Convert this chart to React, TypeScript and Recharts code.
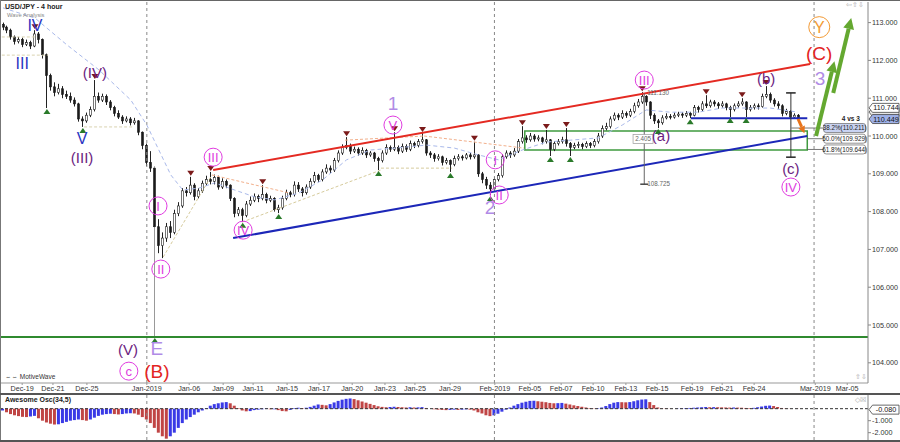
import React from "react";
import { ComposedChart, Bar, Line, XAxis, YAxis, ReferenceLine, ReferenceDot, ReferenceArea, Cell } from "recharts";

const FONT = '"Liberation Sans", Arial, sans-serif';

// 4h candles, index 0 = Dec-18 evening
const OPEN0 = 112.95;
const CLOSE = [
  112.88, 112.80, 112.62, 112.50, 112.55, 112.42, 112.47, 112.38, 112.70, 112.55,
  112.15, 111.60, 111.30, 111.15, 111.25, 111.10, 111.05, 110.95, 110.85, 110.45,
  110.40, 110.55, 110.70, 111.05, 110.95, 111.05, 110.90, 110.75, 110.60, 110.50,
  110.40, 110.45, 110.35, 110.40, 110.10, 109.75, 109.30, 109.15, 107.60, 107.10,
  107.30, 107.60, 107.45, 107.95, 108.15, 108.55, 108.50, 108.70, 108.40, 108.55,
  108.75, 108.85, 108.80, 108.90, 108.65, 108.80, 108.70, 108.35, 107.95, 108.05,
  107.90, 108.20, 108.30, 108.40, 108.35, 108.45, 108.30, 108.35, 108.05, 108.10,
  108.35, 108.50, 108.45, 108.70, 108.60, 108.50, 108.65, 108.80, 108.95, 108.85,
  109.05, 109.15, 109.10, 109.35, 109.55, 109.70, 109.75, 109.60, 109.65, 109.55,
  109.62, 109.50, 109.55, 109.40, 109.35, 109.55, 109.70, 109.65, 109.70, 109.60,
  109.72, 109.65, 109.80, 109.75, 109.85, 109.90, 109.55, 109.50, 109.40, 109.45,
  109.30, 109.35, 109.25, 109.40, 109.45, 109.42, 109.50, 109.45, 109.50, 109.00,
  108.85, 108.70, 108.60, 108.85, 108.95, 109.45, 109.55, 109.50, 109.60, 109.85,
  109.95, 109.90, 110.00, 109.92, 109.95, 109.85, 109.90, 109.65, 109.80, 109.85,
  109.90, 109.80, 109.70, 109.75, 109.78, 109.72, 109.80, 109.75, 109.85, 110.00,
  110.20, 110.25, 110.45, 110.55, 110.50, 110.60, 110.55, 110.65, 110.80, 110.90,
  111.05, 110.90, 110.55, 110.40, 110.35, 110.48, 110.52, 110.50, 110.55, 110.58,
  110.55, 110.60, 110.55, 110.75, 110.70, 110.85, 110.80, 110.90, 110.85, 110.80,
  110.85, 110.75, 110.70, 110.80, 110.85, 110.90, 110.70, 110.75, 110.80, 110.78,
  111.05, 111.10, 110.95, 110.85, 110.80, 110.60, 110.65, 110.50, 110.55, 110.45,
];
const HIGH = [
  113.00, 112.92, 112.84, 112.66, 112.62, 112.60, 112.55, 112.52, 112.80, 112.75,
  112.58, 112.18, 111.65, 111.42, 111.38, 111.32, 111.20, 111.15, 111.02, 110.88,
  110.52, 110.62, 110.78, 111.48, 111.15, 111.12, 111.10, 110.95, 110.80, 110.68,
  110.55, 110.52, 110.50, 110.48, 110.42, 110.12, 109.80, 109.60, 109.20, 107.80,
  107.45, 107.70, 107.75, 108.05, 108.25, 108.62, 108.65, 108.92, 108.75, 108.62,
  108.82, 108.95, 109.05, 108.98, 108.95, 108.88, 108.85, 108.72, 108.38, 108.12,
  108.10, 108.28, 108.40, 108.48, 108.45, 108.70, 108.50, 108.42, 108.38, 108.18,
  108.42, 108.58, 108.55, 108.80, 108.78, 108.65, 108.72, 108.88, 109.05, 109.00,
  109.12, 109.25, 109.22, 109.42, 109.62, 109.78, 109.97, 109.80, 109.72, 109.70,
  109.70, 109.66, 109.60, 109.58, 109.45, 109.62, 109.78, 109.75, 110.10, 109.75,
  109.80, 109.78, 109.88, 109.85, 109.92, 110.08, 109.92, 109.60, 109.55, 109.52,
  109.48, 109.42, 109.38, 109.48, 109.52, 109.50, 109.55, 109.55, 109.85, 109.52,
  109.05, 108.92, 108.78, 108.92, 109.02, 109.52, 109.62, 109.60, 109.68, 109.92,
  110.26, 110.02, 110.08, 110.05, 110.02, 109.98, 110.16, 109.92, 109.86, 109.92,
  109.98, 110.21, 109.84, 109.82, 109.85, 109.82, 109.86, 109.84, 109.92, 110.08,
  110.28, 110.35, 110.52, 110.62, 110.60, 110.68, 110.65, 110.72, 110.88, 110.98,
  111.16, 111.08, 110.92, 110.60, 110.45, 110.55, 110.60, 110.58, 110.62, 110.64,
  110.63, 110.66, 110.64, 110.82, 110.80, 110.92, 111.08, 110.96, 110.95, 110.90,
  110.92, 110.88, 110.80, 110.86, 110.92, 111.00, 110.92, 110.82, 110.86, 110.86,
  111.12, 111.32, 111.15, 111.00, 110.92, 110.84, 110.72, 110.68, 110.60, 110.58,
];
const LOW = [
  112.80, 112.72, 112.55, 112.42, 112.45, 112.35, 112.38, 112.30, 112.35, 112.45,
  112.05, 110.74, 111.20, 111.05, 111.10, 111.00, 110.98, 110.88, 110.78, 110.38,
  110.24, 110.35, 110.50, 110.65, 110.88, 110.90, 110.82, 110.68, 110.52, 110.45,
  110.32, 110.36, 110.28, 110.30, 110.02, 109.65, 109.20, 109.05, 104.68, 106.90,
  106.77, 107.20, 107.30, 107.40, 107.88, 108.10, 108.40, 108.45, 108.30, 108.35,
  108.50, 108.68, 108.72, 108.72, 108.58, 108.60, 108.62, 108.28, 107.85, 107.88,
  107.73, 107.85, 108.15, 108.25, 108.25, 108.30, 108.22, 108.25, 108.00, 107.96,
  108.05, 108.30, 108.38, 108.40, 108.52, 108.40, 108.45, 108.60, 108.75, 108.78,
  108.80, 109.00, 109.02, 109.05, 109.30, 109.50, 109.65, 109.52, 109.55, 109.48,
  109.50, 109.42, 109.45, 109.32, 109.10, 109.30, 109.50, 109.58, 109.60, 109.52,
  109.55, 109.58, 109.60, 109.68, 109.70, 109.80, 109.48, 109.42, 109.32, 109.35,
  109.22, 109.25, 109.05, 109.20, 109.35, 109.35, 109.38, 109.38, 109.40, 108.92,
  108.75, 108.60, 108.44, 108.55, 108.80, 108.90, 109.40, 109.42, 109.45, 109.55,
  109.80, 109.82, 109.85, 109.85, 109.86, 109.78, 109.80, 109.47, 109.60, 109.75,
  109.80, 109.72, 109.47, 109.65, 109.68, 109.65, 109.68, 109.68, 109.70, 109.80,
  109.95, 110.15, 110.20, 110.40, 110.42, 110.45, 110.48, 110.50, 110.60, 110.75,
  110.85, 110.80, 110.45, 110.32, 110.21, 110.30, 110.44, 110.44, 110.46, 110.50,
  110.48, 110.50, 110.47, 110.52, 110.62, 110.66, 110.74, 110.75, 110.78, 110.72,
  110.75, 110.68, 110.50, 110.65, 110.75, 110.80, 110.50, 110.65, 110.70, 110.70,
  110.75, 111.00, 110.88, 110.78, 110.72, 110.52, 110.55, 110.45, 110.46, 110.42,
];
// Awesome Oscillator (34,5)
const AO = [
  -0.15, -0.30, -0.45, -0.55, -0.62, -0.68, -0.70, -0.65, -0.60, -0.80,
  -1.00, -1.15, -1.25, -1.32, -1.30, -1.20, -1.10, -1.00, -0.95, -0.90,
  -0.95, -1.00, -0.90, -0.75, -0.60, -0.50, -0.45, -0.42, -0.45, -0.48,
  -0.45, -0.40, -0.38, -0.40, -0.50, -0.70, -0.90, -1.20, -1.60, -2.00,
  -2.30, -2.50, -2.30, -2.00, -1.60, -1.20, -0.90, -0.70, -0.50, -0.30,
  -0.15, 0.05, 0.25, 0.38, 0.45, 0.52, 0.55, 0.45, 0.25, 0.05,
  -0.15, -0.22, -0.20, -0.12, -0.08, -0.05, -0.03, -0.05, -0.05, -0.12,
  -0.20, -0.22, -0.10, 0.05, 0.08, 0.05, 0.08, 0.15, 0.25, 0.35,
  0.32, 0.28, 0.38, 0.52, 0.65, 0.75, 0.82, 0.85, 0.80, 0.70,
  0.60, 0.50, 0.40, 0.30, 0.20, 0.15, 0.12, 0.14, 0.16, 0.14,
  0.12, 0.10, 0.12, 0.10, 0.11, 0.13, 0.06, 0.00, -0.05, -0.08,
  -0.10, -0.12, -0.10, -0.08, -0.10, -0.08, -0.06, -0.08, -0.15, -0.30,
  -0.40, -0.55, -0.62, -0.55, -0.42, -0.25, -0.08, 0.10, 0.25, 0.38,
  0.50, 0.58, 0.65, 0.66, 0.62, 0.58, 0.54, 0.48, 0.45, 0.46,
  0.48, 0.42, 0.35, 0.28, 0.22, 0.16, 0.10, 0.05, 0.02, 0.04,
  0.10, 0.22, 0.38, 0.50, 0.55, 0.54, 0.53, 0.55, 0.62, 0.70,
  0.76, 0.78, 0.55, 0.30, 0.10, 0.03, 0.02, 0.01, 0.00, 0.02,
  0.04, 0.05, 0.06, 0.08, 0.10, 0.12, 0.14, 0.12, 0.13, 0.12,
  0.11, 0.10, 0.09, 0.10, 0.09, 0.08, 0.06, 0.05, 0.07, 0.12,
  0.18, 0.24, 0.26, 0.22, 0.14, 0.06, 0.02, 0.01, 0.00, -0.01,
];
// light blue moving average, read at a few bars
const MA_IDX = [0, 8, 16, 24, 32, 36, 39, 42, 45, 49, 53, 58, 63, 68, 74, 80, 86, 92, 98, 106, 113, 119, 124, 130, 136, 142, 149, 155, 161, 167, 174, 180, 186, 192, 199];
const MA_VAL = [113.39, 113.12, 112.41, 111.75, 110.95, 110.29, 109.63, 108.97, 108.57, 108.62, 108.76, 108.57, 108.39, 108.31, 108.49, 108.84, 109.37, 109.63, 109.68, 109.76, 109.68, 109.50, 109.37, 109.63, 109.84, 109.89, 109.95, 110.29, 110.69, 110.63, 110.63, 110.74, 110.74, 110.74, 110.63];

const TICK_POS = [4.8, 12.5, 21, 36, 46.6, 55.1, 62.6, 71.1, 79.1, 87.4, 95.6, 103.1, 111.9, 123.1, 131.9, 139.7, 147.7, 155.9, 163.7, 172.5, 180, 188, 203.3, 211.3];
const TICK_LBL = ["Dec-19", "Dec-21", "Dec-25", "Jan-2019", "Jan-06", "Jan-09", "Jan-11", "Jan-15", "Jan-17", "Jan-20", "Jan-23", "Jan-25", "Jan-29", "Feb-2019", "Feb-05", "Feb-07", "Feb-10", "Feb-13", "Feb-15", "Feb-19", "Feb-21", "Feb-24", "Mar-2019", "Mar-05"];
const PRICE_TICKS = [104, 105, 106, 107, 108, 109, 110, 111, 112, 113];
const AO_TICKS = [-1, -2];
const SESSION_LINES = [36, 123, 203];

const PEAK_I = [8, 23, 47, 52, 65, 86, 98, 105, 118, 130, 136, 141, 160, 176, 185, 191];
const PEAK_P = [112.80, 111.48, 108.92, 109.05, 108.70, 109.97, 110.10, 110.08, 109.85, 110.26, 110.16, 110.21, 111.16, 111.08, 111.00, 111.32];
const TROUGH_I = [11, 20, 38, 60, 69, 94, 112, 122, 137, 142, 164, 172, 182, 186];
const TROUGH_P = [110.74, 110.24, 104.68, 107.73, 107.96, 109.10, 109.05, 108.44, 109.47, 109.47, 110.21, 110.47, 110.50, 110.50];

const WAVES = [
  { t: "IV", i: 8, p: 112.94, k: "blue" },
  { t: "III", i: 4.8, p: 111.93, k: "blue" },
  { t: "V", i: 19.8, p: 109.95, k: "blue" },
  { t: "(IV)", i: 23, p: 111.69, k: "purple" },
  { t: "(III)", i: 19.8, p: 109.44, k: "purple" },
  { t: "(V)", i: 31.3, p: 104.34, k: "purple" },
  { t: "E", i: 38.5, p: 104.39, k: "lilac" },
  { t: "c", i: 31.5, p: 103.78, k: "circ" },
  { t: "(B)", i: 38.5, p: 103.78, k: "red" },
  { t: "I", i: 38.8, p: 108.15, k: "circ" },
  { t: "II", i: 39.5, p: 106.48, k: "circ" },
  { t: "III", i: 52.6, p: 109.44, k: "circ" },
  { t: "IV", i: 60.1, p: 107.51, k: "circ" },
  { t: "1", i: 97.6, p: 110.87, k: "lilac" },
  { t: "V", i: 97.6, p: 110.29, k: "circ" },
  { t: "2", i: 121.9, p: 108.12, k: "lilac" },
  { t: "I", i: 123.2, p: 109.37, k: "circ" },
  { t: "II", i: 124.2, p: 108.44, k: "circ" },
  { t: "III", i: 160.5, p: 111.48, k: "circ" },
  { t: "(a)", i: 164.7, p: 110.0, k: "purple" },
  { t: "(b)", i: 191, p: 111.53, k: "purple" },
  { t: "(c)", i: 197.2, p: 109.15, k: "purple" },
  { t: "IV", i: 197.2, p: 108.65, k: "circ" },
  { t: "3", i: 204.5, p: 111.53, k: "lilac" },
  { t: "(C)", i: 204.3, p: 112.2, k: "red" },
  { t: "Y", i: 204.3, p: 112.88, k: "ycirc" },
];

const FIB_LVL = ["38.2%", "50.0%", "61.8%"];
const FIB_P = [110.211, 109.929, 109.644];
const TAG_P = [110.633, 110.744, 110.449];

const candles = CLOSE.map((c, i) => {
  const k = MA_IDX.indexOf(i);
  return {
    i,
    o: i === 0 ? OPEN0 : CLOSE[i - 1],
    c,
    h: HIGH[i],
    l: LOW[i],
    ma: k >= 0 ? MA_VAL[k] : null,
    ao: AO[i],
  };
});

const STYLE: Record<string, { color: string; size: number; r?: number }> = {
  blue: { color: "#2a36c2", size: 16 },
  purple: { color: "#6b1d80", size: 15 },
  lilac: { color: "#b18be6", size: 19 },
  red: { color: "#e3241f", size: 19 },
  circ: { color: "#e03ce0", size: 13, r: 9 },
  ycirc: { color: "#f39a35", size: 16, r: 10.5 },
};

const Candle = (props: any) => {
  const { x, y, width, height, payload } = props;
  if (!payload || height == null) return <g />;
  const { o, h, l, c } = payload;
  const cx = Math.round(x + width / 2) + 0.5;
  const span = h - l || 1;
  const py = (v: number) => y + ((h - v) / span) * height;
  const top = py(Math.max(o, c));
  const bot = py(Math.min(o, c));
  const up = c >= o;
  return (
    <g>
      <line x1={cx} x2={cx} y1={y} y2={y + height} stroke={l < 105 ? "#999" : "#222"} strokeWidth={1} />
      <rect x={cx - 1} y={top} width={2} height={Math.max(1, bot - top)} fill={up ? "#fff" : "#1a1a1a"} stroke="#1a1a1a" strokeWidth={0.6} />
    </g>
  );
};

const waveShape = (t: string, k: string) => (p: any) => {
  const s = STYLE[k];
  return (
    <g>
      {s.r ? <circle cx={p.cx} cy={p.cy} r={s.r} fill="none" stroke={s.color} strokeWidth={1} /> : null}
      <text x={p.cx} y={p.cy + s.size * 0.36} textAnchor="middle" fill={s.color} fontSize={s.size} fontFamily={FONT}>{t}</text>
    </g>
  );
};

const tri = (down: boolean) => (p: any) => {
  const { cx, cy } = p;
  const pts = down
    ? `${cx - 3.5},${cy - 6} ${cx + 3.5},${cy - 6} ${cx},${cy - 1}`
    : `${cx - 3.5},${cy + 6} ${cx + 3.5},${cy + 6} ${cx},${cy + 1}`;
  return <polygon points={pts} fill={down ? "#7b1a1a" : "#2a7a2a"} />;
};

const arrowShape = (color: string, w: number, head: number) => (props: any) => {
  const { x1, y1, x2, y2 } = props;
  const dx = x2 - x1, dy = y2 - y1;
  const len = Math.sqrt(dx * dx + dy * dy) || 1;
  const ux = dx / len, uy = dy / len;
  const bx = x2 - ux * head, by = y2 - uy * head;
  const nx = -uy, ny = ux;
  const hw = head * 0.5;
  return (
    <g>
      <line x1={x1} y1={y1} x2={bx} y2={by} stroke={color} strokeWidth={w} />
      <polygon points={`${x2},${y2} ${bx + nx * hw},${by + ny * hw} ${bx - nx * hw},${by - ny * hw}`} fill={color} />
    </g>
  );
};

const fibTag = (text: string, fill: string) => (p: any) => (
  <g>
    <rect x={p.cx} y={p.cy - 4.5} width={42} height={9} rx={2.5} fill={fill} stroke="#777" strokeWidth={0.8} />
    <text x={p.cx + 21} y={p.cy + 2.3} textAnchor="middle" fontSize={6.3} fill="#222" fontFamily={FONT}>{text}</text>
  </g>
);

const priceTag = (text: string, fill: string) => (p: any) => (
  <g>
    <polygon points={`${p.cx + 1},${p.cy} ${p.cx + 4.5},${p.cy - 4.5} ${p.cx + 31},${p.cy - 4.5} ${p.cx + 31},${p.cy + 4.5} ${p.cx + 4.5},${p.cy + 4.5}`} fill={fill} stroke="#444" strokeWidth={0.8} />
    {text ? <text x={p.cx + 18} y={p.cy + 2.6} textAnchor="middle" fontSize={7.2} fill="#111" fontFamily={FONT}>{text}</text> : null}
  </g>
);

const smallText = (text: string, dx: number, anchor: string, box?: boolean) => (p: any) => (
  <g>
    {box ? <rect x={p.cx + dx - 10} y={p.cy - 4.5} width={20} height={9} fill="#fff" stroke="#999" strokeWidth={0.7} /> : null}
    <text x={p.cx + dx} y={p.cy + 2.2} textAnchor={anchor as any} fontSize={6.3} fill="#666" fontFamily={FONT}>{text}</text>
  </g>
);

const boldText = (text: string) => (p: any) => (
  <text x={p.cx} y={p.cy + 2.3} textAnchor="middle" fontSize={6.5} fontWeight="bold" fill="#222" fontFamily={FONT}>{text}</text>
);

const seg = (x1: number, y1: number, x2: number, y2: number) => [{ x: x1, y: y1 }, { x: x2, y: y2 }] as any;

export default function App() {
  return (
    <div style={{ position: "absolute", left: 0, top: 0, width: 900, height: 442, background: "#fff", overflow: "hidden", fontFamily: FONT }}>
      <ComposedChart width={900} height={393} data={candles} margin={{ top: 2, right: 0, left: 1, bottom: 0 }}>
        <XAxis
          type="number" dataKey="i" domain={[-0.5, 216.5]} allowDataOverflow
          ticks={TICK_POS} interval={0} height={10} tickSize={2} tickMargin={1}
          tickFormatter={(v: number) => TICK_LBL[TICK_POS.indexOf(v)] ?? ""}
          tick={{ fontSize: 7.2, fill: "#333" }} axisLine={{ stroke: "#999" }} tickLine={{ stroke: "#999" }}
        />
        <YAxis
          yAxisId="p" orientation="right" width={32} domain={[103.466, 113.545]} allowDataOverflow
          ticks={PRICE_TICKS} interval={0} tickSize={3} tickMargin={1}
          tickFormatter={(v: number) => v.toFixed(3)}
          tick={{ fontSize: 7.2, fill: "#333" }} axisLine={{ stroke: "#888" }} tickLine={{ stroke: "#888" }}
        />

        {SESSION_LINES.map((x) => (
          <ReferenceLine key={"s" + x} yAxisId="p" x={x} stroke="#888" strokeDasharray="3 3" />
        ))}
        <ReferenceLine yAxisId="p" y={104.68} stroke="#2f8a2f" strokeWidth={2} />

        {/* helper dashed wave lines */}
        <ReferenceLine yAxisId="p" segment={seg(-0.3, 112.62, 8.5, 112.62)} stroke="#d9d2b0" strokeDasharray="3 2" />
        <ReferenceLine yAxisId="p" segment={seg(-0.3, 112.14, 11.3, 112.14)} stroke="#d9d2b0" strokeDasharray="3 2" />
        <ReferenceLine yAxisId="p" segment={seg(20.3, 110.24, 32.8, 110.24)} stroke="#d9d2b0" strokeDasharray="3 2" />
        <ReferenceLine yAxisId="p" segment={seg(40.1, 106.8, 52.3, 108.97)} stroke="#d6cb9c" strokeDasharray="3 2" />
        <ReferenceLine yAxisId="p" segment={seg(52.3, 108.97, 71.8, 108.49)} stroke="#f2b08c" strokeDasharray="3 2" />
        <ReferenceLine yAxisId="p" segment={seg(59.8, 107.72, 94.6, 109.1)} stroke="#d6cb9c" strokeDasharray="3 2" />
        <ReferenceLine yAxisId="p" segment={seg(85.6, 109.89, 105.4, 110.0)} stroke="#f2b08c" strokeDasharray="3 2" />
        <ReferenceLine yAxisId="p" segment={seg(105.4, 110.0, 130.4, 109.68)} stroke="#f2b08c" strokeDasharray="3 2" />
        <ReferenceLine yAxisId="p" segment={seg(94.6, 109.15, 112.4, 109.15)} stroke="#d6cb9c" strokeDasharray="3 2" />

        <Line yAxisId="p" dataKey="ma" connectNulls dot={false} stroke="#a9b9ea" strokeWidth={1} strokeDasharray="4 3" isAnimationActive={false} />

        <ReferenceArea yAxisId="p" x1={130.6} x2={201.3} y1={109.63} y2={110.13} fill="none" fillOpacity={0} stroke="#3f9a3f" strokeWidth={1.5} />

        <Bar yAxisId="p" dataKey={(d: any) => [d.l, d.h]} barSize={3} shape={Candle} isAnimationActive={false} />

        {/* channel */}
        <ReferenceLine yAxisId="p" segment={seg(52.6, 109.1, 202.0, 111.905)} stroke="#e42a22" strokeWidth={2} />
        <ReferenceLine yAxisId="p" segment={seg(57.6, 107.3, 201.3, 110.0)} stroke="#1c27b8" strokeWidth={2} />
        <ReferenceLine yAxisId="p" segment={seg(172.2, 110.47, 201.3, 110.47)} stroke="#1c27b8" strokeWidth={2} />

        {/* measurement bars */}
        <ReferenceLine yAxisId="p" segment={seg(160.5, 111.13, 160.5, 108.725)} stroke="#666" />
        <ReferenceLine yAxisId="p" segment={seg(159.5, 108.725, 161.5, 108.725)} stroke="#444" strokeWidth={1.5} />
        <ReferenceLine yAxisId="p" segment={seg(197.2, 111.14, 197.2, 109.44)} stroke="#333" />
        <ReferenceLine yAxisId="p" segment={seg(196.0, 111.14, 198.4, 111.14)} stroke="#222" strokeWidth={1.5} />
        <ReferenceLine yAxisId="p" segment={seg(196.0, 109.44, 198.4, 109.44)} stroke="#222" strokeWidth={1.5} />
        <ReferenceDot yAxisId="p" x={160.5} y={111.13} r={0} shape={smallText("111.130", 3, "start")} />
        <ReferenceDot yAxisId="p" x={160.5} y={108.725} r={0} shape={smallText("108.725", 3, "start")} />
        <ReferenceDot yAxisId="p" x={160.2} y={109.92} r={0} shape={smallText("2.405", 0, "middle", true)} />

        {/* fib levels */}
        <ReferenceLine yAxisId="p" segment={seg(197.3, FIB_P[0], 205.4, FIB_P[0])} stroke="#555" strokeWidth={0.8} />
        <ReferenceLine yAxisId="p" segment={seg(201.3, FIB_P[1], 205.4, FIB_P[1])} stroke="#555" strokeWidth={0.8} />
        <ReferenceLine yAxisId="p" segment={seg(201.3, FIB_P[2], 205.4, FIB_P[2])} stroke="#555" strokeWidth={0.8} />
        {FIB_P.map((p, k) => (
          <ReferenceDot key={"f" + k} yAxisId="p" x={205.4} y={p} r={0}
            shape={fibTag(`${FIB_LVL[k]}(${p.toFixed(3)})`, k === 0 ? "#c9d3f2" : "#fff")} />
        ))}
        <ReferenceDot yAxisId="p" x={212.2} y={110.45} r={0} shape={boldText("4 vs 3")} />

        {/* arrows */}
        <ReferenceLine yAxisId="p" segment={seg(199.0, 110.45, 200.6, 110.07)} shape={arrowShape("#e8741c", 3, 7)} />
        <ReferenceLine yAxisId="p" segment={seg(203.5, 110.0, 208.1, 111.98)} shape={arrowShape("#64a830", 4, 11)} />
        <ReferenceLine yAxisId="p" segment={seg(207.8, 111.14, 212.3, 113.12)} shape={arrowShape("#64a830", 4, 11)} />

        {PEAK_I.map((x, k) => (
          <ReferenceDot key={"pk" + k} yAxisId="p" x={x} y={PEAK_P[k]} r={0} shape={tri(true)} />
        ))}
        {TROUGH_I.map((x, k) => (
          <ReferenceDot key={"tr" + k} yAxisId="p" x={x} y={TROUGH_P[k]} r={0} shape={tri(false)} />
        ))}

        {WAVES.map((w, k) => (
          <ReferenceDot key={"w" + k} yAxisId="p" x={w.i} y={w.p} r={0} shape={waveShape(w.t, w.k)} />
        ))}

        {TAG_P.map((p, k) => (
          <ReferenceDot key={"t" + k} yAxisId="p" x={216.5} y={p} r={0} ifOverflow="visible"
            shape={priceTag(k === 0 ? "" : p.toFixed(3), k === 2 ? "#9fb1e8" : k === 0 ? "#e6e6e6" : "#fff")} />
        ))}
      </ComposedChart>

      <div style={{ position: "absolute", left: 0, top: 395 }}>
        <ComposedChart width={900} height={47} data={candles} margin={{ top: 0, right: 0, left: 1, bottom: 2 }}>
          <XAxis type="number" dataKey="i" domain={[-0.5, 216.5]} allowDataOverflow hide />
          <YAxis
            yAxisId="a" orientation="right" width={32} domain={[-2.61, 1.14]} allowDataOverflow
            ticks={AO_TICKS} interval={0} tickSize={3} tickMargin={1}
            tickFormatter={(v: number) => v.toFixed(3)}
            tick={{ fontSize: 7.2, fill: "#333" }} axisLine={{ stroke: "#888" }} tickLine={{ stroke: "#888" }}
          />
          {SESSION_LINES.map((x) => (
            <ReferenceLine key={"sa" + x} yAxisId="a" x={x} stroke="#888" strokeDasharray="3 3" />
          ))}
          <Bar yAxisId="a" dataKey="ao" barSize={3} isAnimationActive={false}>
            {candles.map((d, i) => (
              <Cell key={i} fill={i > 0 && d.ao < AO[i - 1] ? "#c04545" : "#3a3ae6"} />
            ))}
          </Bar>
          <ReferenceLine yAxisId="a" y={0} stroke="#333" strokeDasharray="3 2" />
          <ReferenceDot yAxisId="a" x={216.5} y={-0.08} r={0} ifOverflow="visible" shape={priceTag("-0.080", "#fff")} />
        </ComposedChart>
      </div>

      {/* frame */}
      <div style={{ position: "absolute", left: 0, top: 0, width: 900, height: 1, background: "#666" }} />
      <div style={{ position: "absolute", left: 0, top: 0, width: 1, height: 442, background: "#777" }} />
      <div style={{ position: "absolute", left: 0, top: 393, width: 900, height: 2, background: "#555" }} />
      <div style={{ position: "absolute", left: 0, top: 440, width: 900, height: 2, background: "#555" }} />

      <div style={{ position: "absolute", left: 5, top: 3, fontSize: 7, fontWeight: "bold", color: "#222", lineHeight: "8px" }}>USD/JPY - 4 hour</div>
      <div style={{ position: "absolute", left: 7, top: 12, fontSize: 5.8, color: "#888", lineHeight: "6px" }}>Wave Analysis</div>
      <div style={{ position: "absolute", left: 5, top: 373, fontSize: 6.5, color: "#333" }}>⇔⇔ MotiveWave</div>
      <div style={{ position: "absolute", left: 5, top: 396, fontSize: 7, fontWeight: "bold", color: "#222" }}>Awesome Osc(34,5)</div>
      <div style={{ position: "absolute", left: 846, top: 1, fontSize: 7, color: "#aaa" }}>⇦⇧⇩</div>
      <div style={{ position: "absolute", left: 855, top: 373, fontSize: 7, color: "#aaa" }}>⇧⇩</div>
      <div style={{ position: "absolute", left: 855, top: 396, fontSize: 7, color: "#aaa" }}>◇☒</div>
    </div>
  );
}
